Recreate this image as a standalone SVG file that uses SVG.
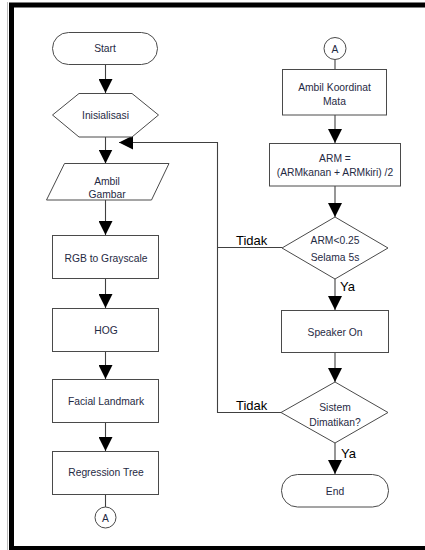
<svg xmlns="http://www.w3.org/2000/svg" width="425" height="550" viewBox="0 0 425 550">
<defs>
<style>
.s{fill:#fff;stroke:#4a4a4a;stroke-width:1}
.c{fill:none;stroke:#404040;stroke-width:1.1}
.t{font-family:"Liberation Sans",Arial,sans-serif;font-size:10.3px;fill:#1f2a44;text-anchor:middle}
.l{font-family:"Liberation Sans",Arial,sans-serif;font-size:13px;fill:#000}
</style>
<marker id="ah" markerUnits="userSpaceOnUse" markerWidth="14" markerHeight="14" viewBox="0 0 12 12" refX="12" refY="6" orient="auto">
<path d="M0,0 L12,6 L0,12 Z" fill="#000"/>
</marker>
</defs>
<rect width="425" height="550" fill="#fff"/>
<path d="M425 5 H11.5 V548.5 H425" fill="none" stroke="#000" stroke-width="5"/>
<path d="M7.5 2 V550" stroke="#bbb" stroke-width="1"/>

<g id="connectors">
<path class="c" d="M105.5 64.5 V93" marker-end="url(#ah)"/>
<path class="c" d="M105.5 137 V163.5" marker-end="url(#ah)"/>
<path class="c" d="M105.5 200 V235" marker-end="url(#ah)"/>
<path class="c" d="M105.5 278.5 V308" marker-end="url(#ah)"/>
<path class="c" d="M105.5 351.5 V379" marker-end="url(#ah)"/>
<path class="c" d="M105.5 422 V451" marker-end="url(#ah)"/>
<path class="c" d="M105.5 494 V507"/>
<path class="c" d="M335 59.5 V69"/>
<path class="c" d="M335 115 V143" marker-end="url(#ah)"/>
<path class="c" d="M335 186 V217" marker-end="url(#ah)"/>
<path class="c" d="M335 279 V310" marker-end="url(#ah)"/>
<path class="c" d="M335 352 V382" marker-end="url(#ah)"/>
<path class="c" d="M335 443 V474" marker-end="url(#ah)"/>
<path class="c" d="M281 412.5 H217.5 V142.5 H119" marker-end="url(#ah)"/>
<path class="c" d="M282 247.5 H217.5"/>
<text class="l" x="236" y="245">Tidak</text>
<text class="l" x="236" y="410">Tidak</text>
<text class="l" x="340" y="291">Ya</text>
<text class="l" x="341" y="458">Ya</text>
</g>

<g id="start">
<rect class="s" x="52.5" y="32.5" width="105" height="32" rx="16"/>
<text class="t" x="105" y="52">Start</text>
</g>
<g id="inisialisasi">
<polygon class="s" points="52.5,115 79,93.5 132,93.5 158.5,115 132,137 79,137"/>
<text class="t" x="105.5" y="119">Inisialisasi</text>
</g>
<g id="ambil-gambar">
<polygon class="s" points="64.5,163.5 169,163.5 151.5,200 46.5,200"/>
<text class="t" x="107" y="184.5">Ambil</text>
<text class="t" x="107" y="197.5">Gambar</text>
</g>
<g id="rgb">
<rect class="s" x="52.5" y="235.5" width="106" height="43"/>
<text class="t" x="106" y="261.5">RGB to Grayscale</text>
</g>
<g id="hog">
<rect class="s" x="52.5" y="308.5" width="106" height="43"/>
<text class="t" x="106" y="334">HOG</text>
</g>
<g id="facial">
<rect class="s" x="52.5" y="379.5" width="106" height="43"/>
<text class="t" x="106" y="405">Facial Landmark</text>
</g>
<g id="regression">
<rect class="s" x="52.5" y="451.5" width="106" height="43"/>
<text class="t" x="106" y="475.5">Regression Tree</text>
</g>
<g id="conn-a-left">
<circle class="s" cx="105.5" cy="517.5" r="10.5"/>
<text class="t" x="105.5" y="521.5">A</text>
</g>
<g id="conn-a-right">
<circle class="s" cx="335" cy="48.5" r="11"/>
<text class="t" x="335" y="52.5">A</text>
</g>
<g id="koordinat">
<rect class="s" x="282.5" y="69.5" width="104" height="45.5"/>
<text class="t" x="334.5" y="90.5">Ambil Koordinat</text>
<text class="t" x="334.5" y="104.5">Mata</text>
</g>
<g id="arm">
<rect class="s" x="269.5" y="143.5" width="131" height="42.5"/>
<text class="t" x="335" y="161.5">ARM =</text>
<text class="t" x="335" y="175.5">(ARMkanan + ARMkiri) /2</text>
</g>
<g id="cek-arm">
<polygon class="s" points="335,217 388,248 335,279 282,248"/>
<text class="t" x="335" y="244">ARM&lt;0.25</text>
<text class="t" x="335" y="260.5">Selama 5s</text>
</g>
<g id="speaker">
<rect class="s" x="281.5" y="310.5" width="107" height="42"/>
<text class="t" x="335" y="336">Speaker On</text>
</g>
<g id="cek-sistem">
<polygon class="s" points="335,382 388,412.5 335,443 281,412.5"/>
<text class="t" x="335" y="411">Sistem</text>
<text class="t" x="335" y="426">Dimatikan?</text>
</g>
<g id="end">
<rect class="s" x="281.5" y="474.5" width="107" height="32.5" rx="16"/>
<text class="t" x="335" y="495">End</text>
</g>
</svg>
